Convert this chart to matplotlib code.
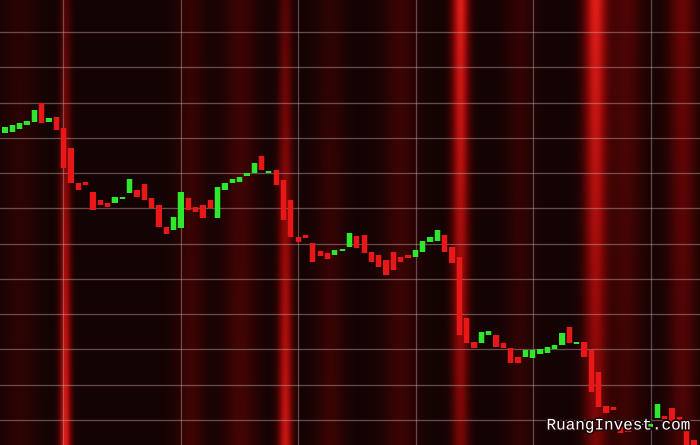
import numpy as np
import matplotlib.pyplot as plt
import matplotlib.patheffects as pe


# candle prices (open, close), one per session
opens = [312, 313, 316, 320, 323, 342, 323, 328, 317, 297,
         262, 263, 253, 245, 242, 242, 246, 252, 255, 261,
         247, 240, 218, 215, 217, 247, 238, 240, 245, 227,
         255, 262, 263, 269, 272, 289, 272, 275, 265, 245,
         208, 210, 202, 194, 192, 190, 194, 198, 209, 210,
         193, 190, 185, 193, 188, 190, 188, 193, 203, 204,
         210, 198, 188, 127, 103, 102, 110, 110, 102, 97,
         88, 88, 87, 91, 92, 96, 100, 118, 101, 103,
         95, 73, 39, 38, 23, 17, 20, 20, 18, 27,
         29, 37, 28, 15, 5]
closes = [318, 320, 322, 324, 335, 322, 327, 315, 277, 262,
          255, 261, 235, 240, 238, 248, 248, 266, 248, 245,
          237, 218, 211, 228, 253, 235, 233, 227, 237, 258,
          262, 266, 268, 272, 282, 275, 274, 260, 225, 208,
          203, 208, 183, 189, 186, 195, 196, 212, 197, 192,
          183, 178, 170, 175, 183, 187, 195, 204, 208, 215,
          193, 182, 110, 102, 97, 113, 114, 98, 97, 82,
          82, 95, 95, 96, 98, 100, 112, 102, 103, 88,
          53, 38, 32, 36, 12, 13, 15, 23, 21, 41,
          27, 18, 15, 0, -5]

# horizontal price grid and vertical session grid
price_grid = np.linspace(25, 413, 12)
session_grid = 7.9 + 16.05 * np.arange(6)

# red glow columns behind the chart: (pixel x, width, strength top, strength bottom)
glow_bands = [(65, 4, 0.25, 0.95), (285, 5, 0.3, 0.85), (460, 6, 0.95, 0.45),
              (595, 8, 0.95, 0.45), (682, 10, 0.4, 0.25), (190, 10, 0.15, 0.2),
              (240, 12, 0.18, 0.22), (400, 12, 0.18, 0.18), (520, 10, 0.15, 0.12),
              (625, 12, 0.28, 0.18), (20, 12, 0.1, 0.12), (330, 10, 0.12, 0.18)]

W, H = 700, 445
x_lo, x_hi = -0.68, 94.82

fig = plt.figure(figsize=(7, 4.45), dpi=100)
ax = fig.add_axes([0, 0, 1, 1])

# background glow image
px = np.arange(W)[None, :]
fy = np.linspace(0, 1, H)[:, None]
glow = np.zeros((H, W))
for cx, w, top, bottom in glow_bands:
    strength = top + (bottom - top) * fy
    glow += strength * np.exp(-0.5 * ((px - cx) / w) ** 2)
glow = np.clip(glow, 0, 1)
bg = np.zeros((H, W, 3))
bg[..., 0] = 0.08 + 0.82 * glow
bg[..., 1] = 0.015 + 0.12 * glow ** 3
bg[..., 2] = 0.015 + 0.10 * glow ** 3
ax.imshow(bg, extent=(x_lo, x_hi, 0, H), aspect='auto', origin='upper', zorder=0)

for p in price_grid:
    ax.axhline(p, color='#c8a8a8', lw=0.9, alpha=0.45, zorder=1)
for s in session_grid:
    ax.axvline(s, color='#c8a8a8', lw=0.9, alpha=0.42, zorder=1)

idx = np.arange(len(opens))
o = np.array(opens, dtype=float)
c = np.array(closes, dtype=float)
up = c >= o
colors = np.where(up, '#2ee82e', '#e81818')
heights = np.where(np.abs(c - o) < 2.5, np.sign(c - o + 0.01) * 2.5, c - o)

# soft halo then body
ax.bar(idx, heights, bottom=o, width=0.95, color=colors, alpha=0.25, zorder=2)
ax.bar(idx, heights, bottom=o, width=0.72, color=colors, zorder=3)

ax.text(0.987, 0.045, 'RuangInvest.com', transform=ax.transAxes, ha='right',
        va='center', family='Liberation Mono', fontsize=11.5, color='white',
        zorder=5, path_effects=[pe.withStroke(linewidth=2.5, foreground='#200808')])

ax.set_xlim(x_lo, x_hi)
ax.set_ylim(0, H)
ax.axis('off')
fig.savefig('out.png', dpi=100)
